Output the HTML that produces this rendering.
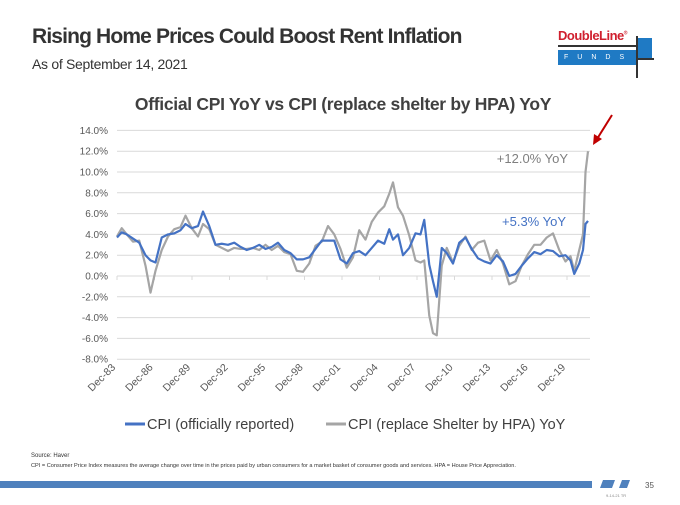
<!DOCTYPE html>
<html><head><meta charset="utf-8"><style>
body{margin:0;width:680px;height:505px;background:#fff;font-family:"Liberation Sans",sans-serif;overflow:hidden;position:relative}
.abs{position:absolute}
</style></head><body>
<div class="abs" style="left:32px;top:25px;font-size:21px;font-weight:bold;color:#333;letter-spacing:-0.85px">Rising Home Prices Could Boost Rent Inflation</div>
<div class="abs" style="left:32px;top:56px;font-size:14px;color:#333;letter-spacing:-0.3px">As of September 14, 2021</div>
<div class="abs" style="left:558px;top:24px;width:100px;height:56px">
  <div style="position:absolute;left:0;top:4px;font-size:13px;font-weight:bold;color:#d0202f;letter-spacing:-0.5px">DoubleLine<sup style="font-size:5px">®</sup></div>
  <div style="position:absolute;left:0;top:21px;width:82px;height:2px;background:#333"></div>
  <div style="position:absolute;left:0;top:26px;width:80px;height:15px;background:#1f7ac4;color:#fff;font-size:7px;letter-spacing:9px;line-height:15px;padding-left:6px;box-sizing:border-box">FUNDS</div>
  <div style="position:absolute;left:80px;top:14px;width:14px;height:20px;background:#1f7ac4"></div>
  <div style="position:absolute;left:78px;top:12px;width:2px;height:42px;background:#333"></div>
  <div style="position:absolute;left:80px;top:34px;width:16px;height:2px;background:#333"></div>
</div>
<svg class="abs" style="left:0;top:0" width="680" height="505">
<text x="343" y="110" text-anchor="middle" font-size="17.5" font-weight="bold" fill="#404040" letter-spacing="-0.3">Official CPI YoY vs CPI (replace shelter by HPA) YoY</text>
<g id="grid"></g><g id="xl"></g><g id="lines"></g>
<text x="568" y="163" text-anchor="end" font-size="13" fill="#7f7f7f">+12.0% YoY</text>
<text x="566" y="226" text-anchor="end" font-size="13" fill="#4472c4">+5.3% YoY</text>
<line x1="612" y1="115" x2="597" y2="139" stroke="#c00000" stroke-width="2"/>
<polygon points="593,145 594,134 602,139" fill="#c00000"/>
<line x1="125" y1="424" x2="145" y2="424" stroke="#4472c4" stroke-width="3"/>
<text x="147" y="429" font-size="14.5" fill="#404040">CPI (officially reported)</text>
<line x1="326" y1="424" x2="346" y2="424" stroke="#a5a5a5" stroke-width="3"/>
<text x="348" y="429" font-size="14.5" fill="#404040">CPI (replace Shelter by HPA) YoY</text>
<text x="31" y="457" font-size="6" fill="#333">Source: Haver</text>
<text x="31" y="467" font-size="5.6" fill="#333">CPI = Consumer Price Index measures the average change over time in the prices paid by urban consumers for a market basket of consumer goods and services. HPA = House Price Appreciation.</text>
<rect x="0" y="481" width="592" height="7" fill="#4f81bd"/>
<polygon points="600,488 603,480 615,480 612,488" fill="#4f81bd"/>
<polygon points="619,488 622,480 630,480 627,488" fill="#4f81bd"/>
<text x="645" y="488" font-size="8" fill="#555">35</text>
<text x="606" y="497" font-size="4" fill="#888">9-14-21 TR</text>
</svg>
<script>
const dates=[1983.92,1984.3,1984.7,1985.2,1985.7,1986.2,1986.6,1987.0,1987.5,1988.0,1988.5,1989.0,1989.4,1989.9,1990.4,1990.8,1991.3,1991.8,1992.3,1992.8,1993.3,1993.8,1994.3,1994.8,1995.3,1995.8,1996.3,1996.8,1997.3,1997.8,1998.3,1998.8,1999.3,1999.8,2000.3,2000.8,2001.3,2001.8,2002.3,2002.8,2003.3,2003.8,2004.3,2004.8,2005.3,2005.7,2006.0,2006.4,2006.8,2007.3,2007.8,2008.2,2008.5,2008.9,2009.2,2009.5,2009.9,2010.3,2010.8,2011.3,2011.8,2012.3,2012.8,2013.3,2013.8,2014.3,2014.8,2015.3,2015.8,2016.3,2016.8,2017.3,2017.8,2018.3,2018.8,2019.3,2019.8,2020.2,2020.5,2020.9,2021.2,2021.4,2021.6];
const cpiOfficial=[3.7,4.2,4.0,3.6,3.2,2.0,1.5,1.3,3.7,4.0,4.1,4.4,5.0,4.6,4.8,6.2,4.8,3.0,3.1,3.0,3.2,2.8,2.5,2.7,3.0,2.6,2.8,3.2,2.5,2.2,1.6,1.6,1.8,2.6,3.4,3.4,3.4,1.6,1.2,2.2,2.4,2.0,2.7,3.4,3.1,4.5,3.5,4.0,2.0,2.7,4.1,4.0,5.4,1.1,-0.5,-2.0,2.7,2.2,1.2,3.2,3.7,2.6,1.7,1.4,1.2,2.0,1.4,0.0,0.2,1.0,1.7,2.3,2.1,2.5,2.4,1.9,2.0,1.5,0.2,1.2,2.5,5.0,5.3];
const cpiHpa=[3.8,4.6,4.0,3.3,3.4,1.0,-1.6,0.5,2.5,3.8,4.5,4.7,5.8,4.6,3.8,5.0,4.5,3.0,2.7,2.4,2.7,2.6,2.6,2.7,2.5,3.0,2.5,2.9,2.3,2.1,0.5,0.4,1.2,2.9,3.3,4.8,4.0,2.6,0.8,1.8,4.4,3.5,5.2,6.1,6.7,7.9,9.0,6.6,5.8,3.9,1.5,1.3,1.5,-3.8,-5.5,-5.7,1.0,2.7,1.3,2.9,3.8,2.5,3.2,3.4,1.5,2.5,1.2,-0.8,-0.5,1.0,2.1,3.0,3.0,3.7,4.1,2.5,1.4,1.9,0.5,2.5,4.0,10.0,12.0];
const yTicks=[14,12,10,8,6,4,2,0,-2,-4,-6,-8];
const xTickYears=[1983.92,1986.92,1989.92,1992.92,1995.92,1998.92,2001.92,2004.92,2007.92,2010.92,2013.92,2016.92,2019.92];
const xTickLabels=["Dec-83","Dec-86","Dec-89","Dec-92","Dec-95","Dec-98","Dec-01","Dec-04","Dec-07","Dec-10","Dec-13","Dec-16","Dec-19"];
const NS="http://www.w3.org/2000/svg";
const X=d=>117+(d-1983.92)*12.5;
const Y=v=>276-v*10.4;
function mk(t,a,p){const e=document.createElementNS(NS,t);for(const k in a)e.setAttribute(k,a[k]);p.appendChild(e);return e;}
const g=document.getElementById('grid');
yTicks.forEach(v=>{
  const l=mk('line',{x1:117,x2:590,y1:Y(v),y2:Y(v),stroke:'#d9d9d9','stroke-width':1},g);
  
  
  const t=mk('text',{x:108,y:Y(v)+3.5,'text-anchor':'end','font-size':10,fill:'#595959'},g);
  t.textContent=v.toFixed(1)+'%';
  
  
});
const xl=document.getElementById('xl');
xTickYears.forEach((d,i)=>{
  const x=X(d);
  const tk=mk('line',{x1:x,x2:x,y1:276,y2:280,stroke:'#d9d9d9'},xl);
  
  
  const t=mk('text',{x:x-1,y:368,'text-anchor':'end','font-size':10.5,fill:'#595959',transform:`rotate(-45 ${x-1} 368)`},xl);
  t.textContent=xTickLabels[i];
  
  
});
const lg=document.getElementById('lines');
function line(vals,col,name){
  const p=mk('polyline',{points:dates.map((d,i)=>X(d)+','+Y(vals[i])).join(' '),fill:'none',stroke:col,'stroke-width':2.2,'stroke-linejoin':'round'},lg);
  
  
}
line(cpiHpa,'#a5a5a5','series-cpi-hpa');
line(cpiOfficial,'#4472c4','series-cpi-official');
</script>
</body></html>
